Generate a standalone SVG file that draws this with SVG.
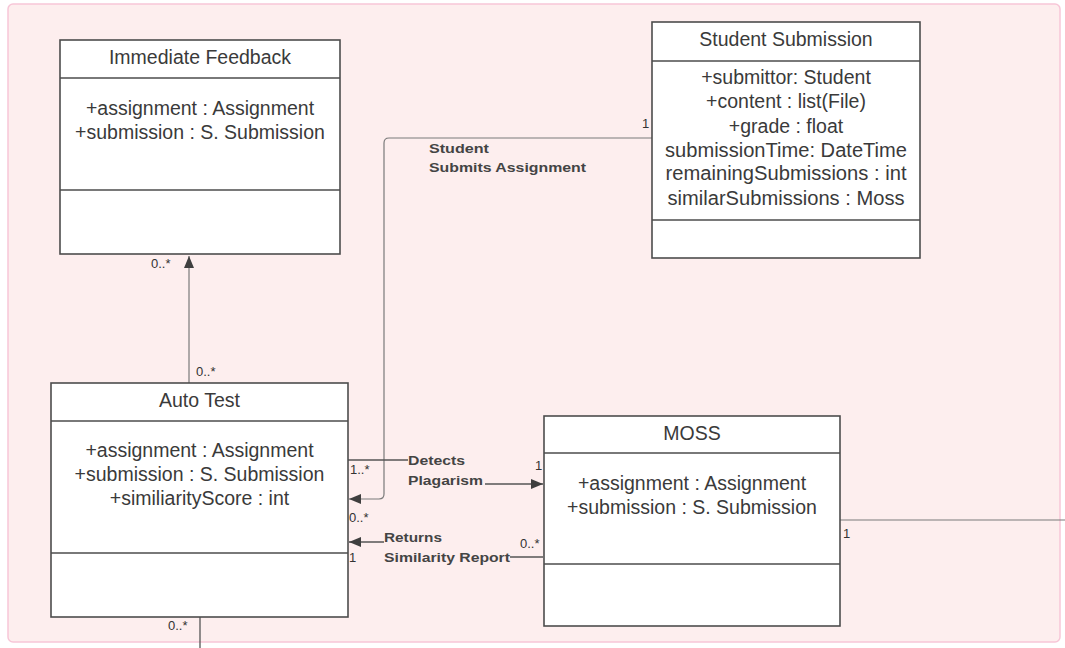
<svg xmlns="http://www.w3.org/2000/svg" width="1065" height="648" viewBox="0 0 1065 648">
<defs>
<style>
.box{fill:#fff;stroke:#4d4d4d;stroke-width:1.6}
.sep{stroke:#4d4d4d;stroke-width:1.6}
.t{font-family:"Liberation Sans",Arial,sans-serif;font-size:19.5px;fill:#3a3a3a;text-anchor:middle}
.lbl{font-family:"Liberation Sans",Arial,sans-serif;font-size:13.5px;font-weight:bold;fill:#444}
.m{font-family:"Liberation Sans",Arial,sans-serif;font-size:13px;fill:#333}
.c{fill:none;stroke:#7a7a7a;stroke-width:1.2}
.cd{fill:none;stroke:#555;stroke-width:1.3}
</style>
<marker id="arr" viewBox="0 0 12 10" refX="12" refY="5" markerWidth="12" markerHeight="10" markerUnits="userSpaceOnUse" orient="auto">
<path d="M0,0 L12,5 L0,10 Z" fill="#3f3f3f"/>
</marker>
</defs>
<rect x="8" y="4" width="1052" height="638" rx="5" fill="#fdeeee" stroke="#f7c6d7" stroke-width="1.5"/>

<g id="connectors">
<path class="c" d="M189,383 V256" marker-end="url(#arr)"/>
<path class="c" d="M652,138 H389 Q384,138 384,143 V494 Q384,499 379,499 H349" marker-end="url(#arr)"/>
<path class="cd" d="M348,460 H408"/>
<path class="cd" d="M485,484 H543" marker-end="url(#arr)"/>
<path class="cd" d="M543,557 H510"/>
<path class="cd" d="M384,542 H349" marker-end="url(#arr)"/>
<path class="c" d="M840,520 H1065"/>
<path class="cd" d="M200,617 V648"/>
<text class="m" x="151" y="268">0..*</text>
<text class="m" x="196" y="376">0..*</text>
<text class="m" x="642" y="128">1</text>
<text class="lbl" x="429" y="153" textLength="60" lengthAdjust="spacingAndGlyphs">Student</text>
<text class="lbl" x="429" y="172" textLength="157" lengthAdjust="spacingAndGlyphs">Submits Assignment</text>
<text class="m" x="350" y="474">1..*</text>
<text class="m" x="349" y="522">0..*</text>
<text class="lbl" x="408" y="465" textLength="57" lengthAdjust="spacingAndGlyphs">Detects</text>
<text class="lbl" x="408" y="485" textLength="75" lengthAdjust="spacingAndGlyphs">Plagarism</text>
<text class="m" x="535" y="470">1</text>
<text class="lbl" x="384" y="542" textLength="58" lengthAdjust="spacingAndGlyphs">Returns</text>
<text class="lbl" x="384" y="562" textLength="126" lengthAdjust="spacingAndGlyphs">Similarity Report</text>
<text class="m" x="520" y="548">0..*</text>
<text class="m" x="349" y="562">1</text>
<text class="m" x="843" y="538">1</text>
<text class="m" x="168" y="630">0..*</text>
</g>

<g id="immediate-feedback">
<rect class="box" x="60" y="40" width="280" height="214"/>
<line class="sep" x1="60" y1="78" x2="340" y2="78"/>
<line class="sep" x1="60" y1="190" x2="340" y2="190"/>
<text class="t" x="200" y="64">Immediate Feedback</text>
<text class="t" x="200" y="115">+assignment : Assignment</text>
<text class="t" x="200" y="139">+submission : S. Submission</text>
</g>

<g id="student-submission">
<rect class="box" x="652" y="22" width="268" height="236"/>
<line class="sep" x1="652" y1="61" x2="920" y2="61"/>
<line class="sep" x1="652" y1="220" x2="920" y2="220"/>
<text class="t" x="786" y="46">Student Submission</text>
<text class="t" x="786" y="84">+submittor: Student</text>
<text class="t" x="786" y="108">+content : list(File)</text>
<text class="t" x="786" y="133">+grade : float</text>
<text class="t" x="786" y="157" textLength="242" lengthAdjust="spacingAndGlyphs">submissionTime: DateTime</text>
<text class="t" x="786" y="180" textLength="241" lengthAdjust="spacingAndGlyphs">remainingSubmissions : int</text>
<text class="t" x="786" y="205" textLength="237" lengthAdjust="spacingAndGlyphs">similarSubmissions : Moss</text>
</g>

<g id="auto-test">
<rect class="box" x="51" y="383" width="297" height="234"/>
<line class="sep" x1="51" y1="421" x2="348" y2="421"/>
<line class="sep" x1="51" y1="553" x2="348" y2="553"/>
<text class="t" x="199.5" y="407">Auto Test</text>
<text class="t" x="199.5" y="457">+assignment : Assignment</text>
<text class="t" x="199.5" y="481">+submission : S. Submission</text>
<text class="t" x="199.5" y="505">+similiarityScore : int</text>
</g>

<g id="moss">
<rect class="box" x="544" y="416" width="296" height="210"/>
<line class="sep" x1="544" y1="453" x2="840" y2="453"/>
<line class="sep" x1="544" y1="564" x2="840" y2="564"/>
<text class="t" x="692" y="440">MOSS</text>
<text class="t" x="692" y="490">+assignment : Assignment</text>
<text class="t" x="692" y="514">+submission : S. Submission</text>
</g>
</svg>
